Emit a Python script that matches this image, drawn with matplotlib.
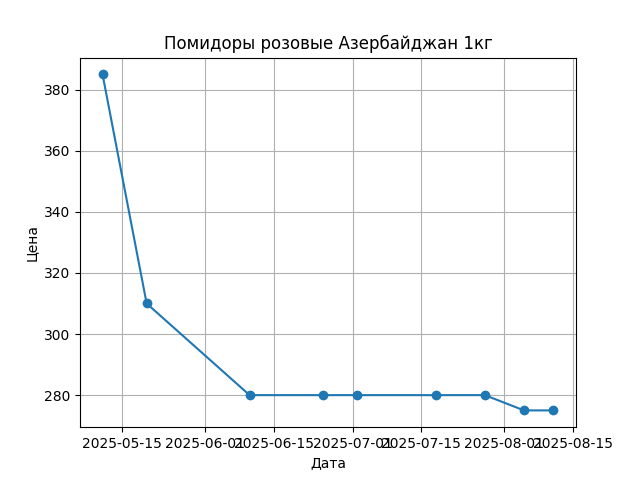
import matplotlib.pyplot as plt
import pandas as pd

dates = ['2025-05-11', '2025-05-20', '2025-06-10', '2025-06-25', '2025-07-02',
         '2025-07-18', '2025-07-28', '2025-08-05', '2025-08-11']
prices = [385, 310, 280, 280, 280, 280, 280, 275, 275]

x = pd.to_datetime(dates)

fig, ax = plt.subplots(figsize=(6.4, 4.8), dpi=100)
ax.plot(x, prices, marker='o')
ax.set_title('Помидоры розовые Азербайджан 1кг')
ax.set_xlabel('Дата')
ax.set_ylabel('Цена')
ax.grid(True)

fig.savefig('out.png')
